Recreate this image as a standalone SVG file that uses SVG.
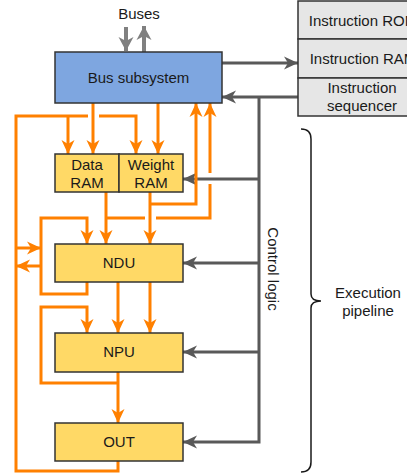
<svg xmlns="http://www.w3.org/2000/svg" width="407" height="473" viewBox="0 0 407 473">
<style>
text{font-family:"Liberation Sans",Arial,sans-serif;font-size:15px;fill:#1a1a1a;text-anchor:middle}
.box{stroke:#333;stroke-width:1.5}
.blk{fill:#ffd966}
.o{fill:none;stroke:#ff8000;stroke-width:3}
.g{fill:none;stroke:#595959;stroke-width:3}
.b{fill:none;stroke:#808080;stroke-width:4}
</style>
<defs>
<marker id="ao" markerUnits="userSpaceOnUse" markerWidth="15" markerHeight="15" refX="14" refY="7" orient="auto"><path d="M0,0.5 L14,7 L0,13.5 L4,7 z" fill="#ff8000"/></marker>
<marker id="ag" markerUnits="userSpaceOnUse" markerWidth="15" markerHeight="15" refX="14" refY="7" orient="auto"><path d="M0,0.5 L14,7 L0,13.5 L4,7 z" fill="#595959"/></marker>
<marker id="ab" markerUnits="userSpaceOnUse" markerWidth="17" markerHeight="17" refX="14" refY="8" orient="auto"><path d="M0,0.5 L14,8 L0,15.5 L4,8 z" fill="#808080"/></marker>
</defs>
<g id="connectors">
<path class="b" d="M126,27 V51" marker-end="url(#ab)"/>
<path class="b" d="M144,52 V26" marker-end="url(#ab)"/>
<path class="g" d="M222,63 H298" marker-end="url(#ag)"/>
<path class="g" d="M298,97 H222" marker-end="url(#ag)"/>
<path class="g" d="M259,97 V442 H183" marker-end="url(#ag)"/>
<path class="g" d="M259,179 H183" marker-end="url(#ag)"/>
<path class="g" d="M259,263 H183" marker-end="url(#ag)"/>
<path class="g" d="M259,352 H183" marker-end="url(#ag)"/>
<path class="o" d="M93,103 V154" marker-end="url(#ao)"/>
<path class="o" d="M158,103 V154" marker-end="url(#ao)"/>
<path class="o" d="M118,461 V471 H16 V116 H88"/>
<path class="o" d="M68,116 V154" marker-end="url(#ao)"/>
<path class="o" d="M99,116 H136 V154" marker-end="url(#ao)"/>
<path class="o" d="M16,248 H41" marker-end="url(#ao)"/>
<path class="o" d="M41,266 H16" marker-end="url(#ao)"/>
<path class="o" d="M87,282 V294 H41 V218 H87 V244" marker-end="url(#ao)"/>
<path class="o" d="M106,192 V244" marker-end="url(#ao)"/>
<path class="o" d="M106,218 H145"/>
<path class="o" d="M156,218 H210 V184"/>
<path class="o" d="M210,173 V103" marker-end="url(#ao)"/>
<path class="o" d="M150,192 V244" marker-end="url(#ao)"/>
<path class="o" d="M150,204 H196 V103" marker-end="url(#ao)"/>
<path class="o" d="M118,282 V333" marker-end="url(#ao)"/>
<path class="o" d="M150,282 V333" marker-end="url(#ao)"/>
<path class="o" d="M118,372 V423" marker-end="url(#ao)"/>
<path class="o" d="M118,383 H41 V307 H87 V333" marker-end="url(#ao)"/>
</g>
<g id="buses-label"><text x="139" y="19">Buses</text></g>
<g id="bus-subsystem"><rect class="box" x="55" y="52" width="167" height="51" fill="#7ea6e0"/><text x="138.5" y="83">Bus subsystem</text></g>
<g id="instruction-rom"><rect class="box" x="298" y="1" width="130" height="38" fill="#e6e6e6"/><text x="363" y="26">Instruction ROM</text></g>
<g id="instruction-ram"><rect class="box" x="298" y="39" width="130" height="39" fill="#e6e6e6"/><text x="363" y="64">Instruction RAM</text></g>
<g id="instruction-sequencer"><rect class="box" x="298" y="78" width="130" height="38" fill="#e6e6e6"/><text x="362" y="93">Instruction</text><text x="362" y="111">sequencer</text></g>
<g id="data-ram"><rect class="box blk" x="55" y="154" width="64" height="38"/><text x="87" y="170">Data</text><text x="87" y="188">RAM</text></g>
<g id="weight-ram"><rect class="box blk" x="119" y="154" width="64" height="38"/><text x="151" y="170">Weight</text><text x="151" y="188">RAM</text></g>
<g id="ndu"><rect class="box blk" x="55" y="244" width="128" height="38"/><text x="119" y="268">NDU</text></g>
<g id="npu"><rect class="box blk" x="55" y="333" width="128" height="39"/><text x="119" y="357">NPU</text></g>
<g id="out"><rect class="box blk" x="55" y="423" width="128" height="38"/><text x="119" y="447">OUT</text></g>
<g id="control-logic"><text transform="translate(268,269) rotate(90)">Control logic</text></g>
<g id="execution-pipeline">
<path d="M301,129 Q311,129 311,139 V294 Q311,301 321,301 Q311,301 311,308 V462 Q311,472 301,472" fill="none" stroke="#1a1a1a" stroke-width="1.5"/>
<text x="368" y="298">Execution</text><text x="368" y="316">pipeline</text>
</g>
</svg>
